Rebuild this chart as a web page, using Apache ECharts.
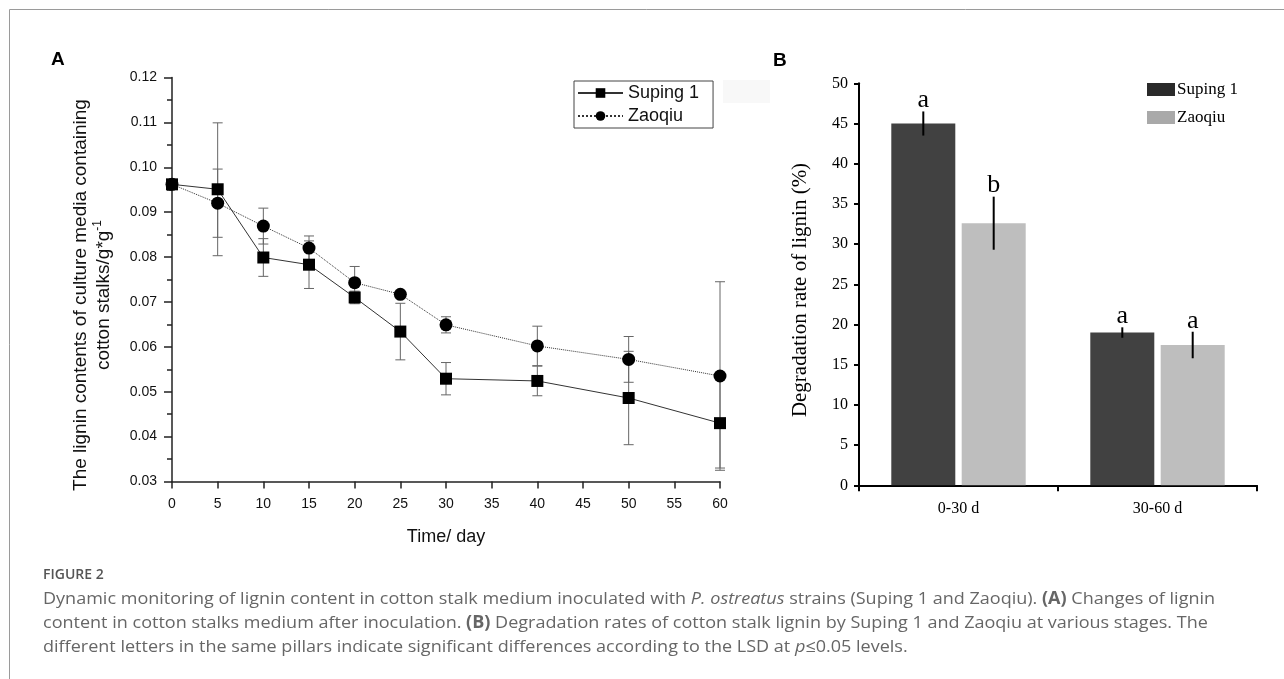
<!DOCTYPE html>
<html>
<head>
<meta charset="utf-8">
<title>Lignin content and degradation</title>
<script src="https://cdn.jsdelivr.net/npm/echarts@6/dist/echarts.min.js"></script>
<style>
  html, body { margin: 0; padding: 0; background: #fff; }
  #chart { width: 1284px; height: 679px; }
</style>
</head>
<body>
<div id="chart"></div>
<script>
// panel A: lignin content over time
var days = [0, 5, 10, 15, 20, 25, 30, 40, 50, 60];
var suping = [0.0962, 0.0951, 0.0799, 0.0783, 0.0710, 0.0634, 0.0529, 0.0524, 0.0486, 0.0430];
var supingSd = [0, 0.0148, 0.0042, 0.0053, 0.0014, 0.0063, 0.0036, 0.0033, 0.0104, 0.0100];
var zaoqiu = [0.0962, 0.0920, 0.0869, 0.0820, 0.0743, 0.0717, 0.0649, 0.0602, 0.0572, 0.0535];
var zaoqiuSd = [0, 0.0076, 0.0040, 0.0027, 0.0036, 0.0004, 0.0018, 0.0044, 0.0051, 0.0210];

// panel B: degradation rate per stage
var stages = ['0-30 d', '30-60 d'];
var rateSuping = [45.0, 19.0];
var rateSupingSd = [1.5, 0.65];
var rateZaoqiu = [32.6, 17.45];
var rateZaoqiuSd = [3.3, 1.65];
var letterSuping = ['a', 'a'];
var letterZaoqiu = ['b', 'a'];

var sans = 'Arial, "Liberation Sans", sans-serif';
var serif = '"Times New Roman", "Liberation Serif", serif';
var capFont = '"Open Sans", "Noto Sans", sans-serif';

function pairs(xs, ys, sd) {
    return xs.map(function (x, i) { return [x, ys[i] - sd[i], ys[i] + sd[i]]; });
}

// error bars with caps for the line chart
function capBar(params, api) {
    var lo = api.coord([api.value(0), api.value(1)]);
    var hi = api.coord([api.value(0), api.value(2)]);
    var w = 5;
    var st = { stroke: '#666', lineWidth: 1 };
    return {
        type: 'group',
        children: [
            { type: 'line', shape: { x1: hi[0], y1: hi[1], x2: lo[0], y2: lo[1] }, style: st },
            { type: 'line', shape: { x1: hi[0] - w, y1: hi[1], x2: hi[0] + w, y2: hi[1] }, style: st },
            { type: 'line', shape: { x1: lo[0] - w, y1: lo[1], x2: lo[0] + w, y2: lo[1] }, style: st }
        ]
    };
}

var barWidth = 64;
var barShift = 35.2;

// plain error line + significance letter above each bar
function letterBar(shift, letters) {
    return function (params, api) {
        var c = api.value(0), v = api.value(1), sd = api.value(2);
        var hi = api.coord([c, v + sd]);
        var lo = api.coord([c, v - sd]);
        var x = hi[0] + shift;
        return {
            type: 'group',
            children: [
                { type: 'line', shape: { x1: x, y1: hi[1], x2: x, y2: lo[1] }, style: { stroke: '#000', lineWidth: 2 } },
                { type: 'text', x: x, y: hi[1] + 2, style: {
                    text: letters[params.dataIndex], font: '26px ' + serif, fill: '#000',
                    align: 'center', verticalAlign: 'bottom' } }
            ]
        };
    };
}

var myChart = echarts.init(document.getElementById('chart'), null, { renderer: 'canvas' });

var capRich = {
    i: { fontFamily: capFont, fontSize: 17, fontStyle: 'italic', color: '#666' },
    b: { fontFamily: capFont, fontSize: 17, fontWeight: 'bold', color: '#555' }
};

myChart.setOption({
    backgroundColor: '#fff',
    animation: false,
    grid: [
        { left: 172, top: 77.5, width: 548, height: 404, outerBoundsMode: 'none' },
        { left: 859, top: 83.3, width: 398, height: 402, outerBoundsMode: 'none' }
    ],
    xAxis: [{
        gridIndex: 0, type: 'value', min: 0, max: 60, interval: 5,
        axisLine: { show: true, lineStyle: { color: '#222', width: 1.5 } },
        axisTick: { show: true, length: 7, lineStyle: { color: '#222', width: 1.5 } },
        axisLabel: { margin: 16, fontFamily: sans, fontSize: 14, color: '#111' },
        splitLine: { show: false },
        name: 'Time/ day', nameLocation: 'middle', nameGap: 47,
        nameTextStyle: { fontFamily: sans, fontSize: 18, color: '#111' }
    }, {
        gridIndex: 1, type: 'category', data: stages,
        axisLine: { show: true, lineStyle: { color: '#000', width: 2 } },
        axisTick: { show: true, length: 6, lineStyle: { color: '#000', width: 2 } },
        axisLabel: { margin: 15, fontFamily: serif, fontSize: 16, color: '#000' },
        splitLine: { show: false }
    }],
    yAxis: [{
        gridIndex: 0, type: 'value', min: 0.03, max: 0.12, interval: 0.01,
        axisLine: { show: true, lineStyle: { color: '#222', width: 1.5 } },
        axisTick: { show: true, length: 8, lineStyle: { color: '#222', width: 1.5 } },
        minorTick: { show: true, splitNumber: 2, length: 5, lineStyle: { color: '#222', width: 1.5 } },
        axisLabel: { margin: 15, fontFamily: sans, fontSize: 14, color: '#111',
            formatter: function (v) { return v.toFixed(2); } },
        splitLine: { show: false },
        minorSplitLine: { show: false }
    }, {
        gridIndex: 1, type: 'value', min: 0, max: 50, interval: 5,
        axisLine: { show: true, lineStyle: { color: '#000', width: 2 } },
        axisTick: { show: true, length: 5, lineStyle: { color: '#000', width: 2 } },
        axisLabel: { margin: 11, fontFamily: serif, fontSize: 16, color: '#000' },
        splitLine: { show: false }
    }],
    legend: {
        data: ['Suping 1', 'Zaoqiu'],
        orient: 'vertical', left: 574, top: 81,
        padding: [3, 14, 3, 3], itemGap: 5, itemWidth: 45, itemHeight: 12,
        borderColor: '#444', borderWidth: 1,
        textStyle: { fontFamily: sans, fontSize: 18, color: '#111' },
        selectedMode: false
    },
    series: [{
        name: 'Suping 1', type: 'line', xAxisIndex: 0, yAxisIndex: 0, z: 3,
        data: days.map(function (d, i) { return [d, suping[i]]; }),
        symbol: 'rect', symbolSize: 12,
        itemStyle: { color: '#000' },
        lineStyle: { color: '#333', width: 1, type: 'solid' }
    }, {
        name: 'Zaoqiu', type: 'line', xAxisIndex: 0, yAxisIndex: 0, z: 2,
        data: days.map(function (d, i) { return [d, zaoqiu[i]]; }),
        symbol: 'circle', symbolSize: 13,
        itemStyle: { color: '#000' },
        lineStyle: { color: '#333', width: 1, type: 'dotted' }
    }, {
        name: 'Suping 1 sd', type: 'custom', xAxisIndex: 0, yAxisIndex: 0, z: 1,
        renderItem: capBar, data: pairs(days, suping, supingSd)
    }, {
        name: 'Zaoqiu sd', type: 'custom', xAxisIndex: 0, yAxisIndex: 0, z: 1,
        renderItem: capBar, data: pairs(days, zaoqiu, zaoqiuSd)
    }, {
        name: 'Suping 1', type: 'bar', xAxisIndex: 1, yAxisIndex: 1,
        data: rateSuping, barWidth: barWidth, barGap: '10%',
        itemStyle: { color: '#414141' }
    }, {
        name: 'Zaoqiu', type: 'bar', xAxisIndex: 1, yAxisIndex: 1,
        data: rateZaoqiu, barWidth: barWidth, barGap: '10%',
        itemStyle: { color: '#bebebe' }
    }, {
        name: 'Suping 1 rate sd', type: 'custom', xAxisIndex: 1, yAxisIndex: 1, z: 5,
        renderItem: letterBar(-barShift, letterSuping),
        data: stages.map(function (s, i) { return [i, rateSuping[i], rateSupingSd[i]]; })
    }, {
        name: 'Zaoqiu rate sd', type: 'custom', xAxisIndex: 1, yAxisIndex: 1, z: 5,
        renderItem: letterBar(barShift, letterZaoqiu),
        data: stages.map(function (s, i) { return [i, rateZaoqiu[i], rateZaoqiuSd[i]]; })
    }],
    graphic: [
        // frame
        { type: 'line', shape: { x1: 9.5, y1: 9.5, x2: 1284, y2: 9.5 }, style: { stroke: '#9a9a9a', lineWidth: 1 } },
        { type: 'line', shape: { x1: 9.5, y1: 9.5, x2: 9.5, y2: 679 }, style: { stroke: '#9a9a9a', lineWidth: 1 } },
        { type: 'rect', shape: { x: 723, y: 80, width: 47, height: 23 }, style: { fill: '#f8f8f8' } },
        // panel letters
        { type: 'text', x: 51, y: 60, style: { text: 'A', font: 'bold 19px ' + sans, fill: '#000', verticalAlign: 'middle' } },
        { type: 'text', x: 773, y: 61, style: { text: 'B', font: 'bold 19px ' + sans, fill: '#000', verticalAlign: 'middle' } },
        // y title A
        { type: 'text', x: 92, y: 295, rotation: Math.PI / 2, style: {
            text: 'The lignin contents of culture media containing\ncotton stalks/g*g{sup|-1}',
            font: '19px ' + sans, fill: '#111', align: 'center', verticalAlign: 'middle', lineHeight: 23,
            rich: { sup: { fontFamily: sans, fontSize: 12, verticalAlign: 'top', lineHeight: 23, padding: [0, 0, 8, 0] } } } },
        // y title B
        { type: 'text', x: 800, y: 290, rotation: Math.PI / 2, style: {
            text: 'Degradation rate of lignin (%)', font: '21px ' + serif, fill: '#000',
            align: 'center', verticalAlign: 'middle' } },
        // legend B
        { type: 'rect', shape: { x: 1147, y: 83, width: 28, height: 13 }, style: { fill: '#2a2a2a' } },
        { type: 'text', x: 1177, y: 89.5, style: { text: 'Suping 1', font: '17px ' + serif, fill: '#000', verticalAlign: 'middle' } },
        { type: 'rect', shape: { x: 1147, y: 111, width: 28, height: 13 }, style: { fill: '#a9a9a9' } },
        { type: 'text', x: 1177, y: 117.5, style: { text: 'Zaoqiu', font: '17px ' + serif, fill: '#000', verticalAlign: 'middle' } },
        // caption
        { type: 'text', x: 43, y: 575, style: { text: 'FIGURE 2', font: '600 14px ' + capFont, fill: '#555', verticalAlign: 'middle' } },
        { type: 'text', x: 43, y: 599, scaleX: 1.06, style: {
            text: 'Dynamic monitoring of lignin content in cotton stalk medium inoculated with {i|P. ostreatus} strains (Suping 1 and Zaoqiu). {b|(A)} Changes of lignin',
            font: '17px ' + capFont, fill: '#666', verticalAlign: 'middle', rich: capRich } },
        { type: 'text', x: 43, y: 623, scaleX: 1.06, style: {
            text: 'content in cotton stalks medium after inoculation. {b|(B)} Degradation rates of cotton stalk lignin by Suping 1 and Zaoqiu at various stages. The',
            font: '17px ' + capFont, fill: '#666', verticalAlign: 'middle', rich: capRich } },
        { type: 'text', x: 43, y: 647, scaleX: 1.06, style: {
            text: 'different letters in the same pillars indicate significant differences according to the LSD at {i|p}≤0.05 levels.',
            font: '17px ' + capFont, fill: '#666', verticalAlign: 'middle', rich: capRich } }
    ]
});
</script>
</body>
</html>
